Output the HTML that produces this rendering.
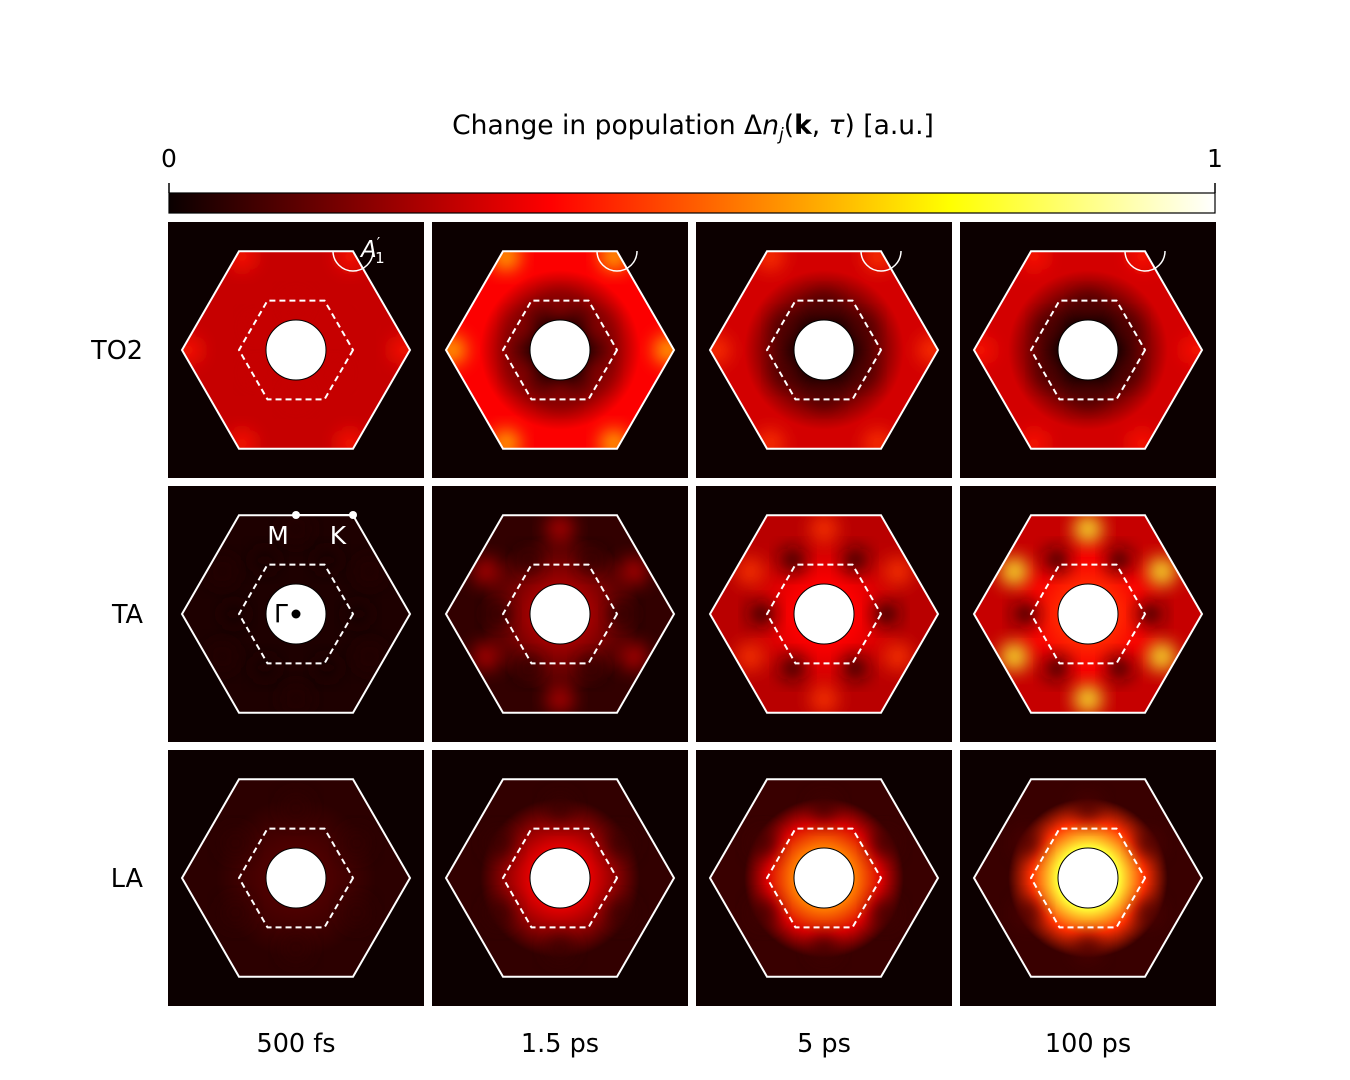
<!DOCTYPE html>
<html><head><meta charset="utf-8"><style>
body{margin:0;background:#fff;}
svg{display:block;font-family:"DejaVu Sans","Liberation Sans",sans-serif;}
</style></head><body>
<svg id="fig" width="1350" height="1080" viewBox="0 0 1350 1080">
<defs>
<linearGradient id="hotcb" x1="0" x2="1" y1="0" y2="0">
<stop offset="0" stop-color="#0a0000"/><stop offset="0.365" stop-color="#ff0000"/>
<stop offset="0.746" stop-color="#ffff00"/><stop offset="1" stop-color="#ffffff"/>
</linearGradient>
<filter id="blur" x="-50%" y="-50%" width="200%" height="200%"><feGaussianBlur stdDeviation="9"/></filter>
</defs>
<text x="693" y="134" font-size="26.5" text-anchor="middle">Change in population Δ<tspan font-style="italic">n</tspan><tspan font-style="italic" font-size="17" dy="6">j</tspan><tspan dy="-6">(</tspan><tspan font-weight="bold">k</tspan>, <tspan font-style="italic">τ</tspan>) [a.u.]</text>
<text x="169" y="167" font-size="25" text-anchor="middle">0</text>
<text x="1215" y="167" font-size="25" text-anchor="middle">1</text>
<line x1="169" y1="183" x2="169" y2="193" stroke="#000" stroke-width="1.5"/>
<line x1="1215" y1="183" x2="1215" y2="193" stroke="#000" stroke-width="1.5"/>
<rect x="169" y="193" width="1046" height="20" fill="url(#hotcb)" stroke="#000" stroke-width="1.2"/>
<g id="panels"></g>
</svg>
<script>
const rowLabels=["TO2","TA","LA"];
const colLabels=["500 fs","1.5 ps","5 ps","100 ps"];
const outerLevel=[[0.28,0.36,0.30,0.30],[0.03,0.06,0.26,0.28],[0.05,0.06,0.07,0.07]];
const innerLevel=[[0.28,0.06,0.04,0.03],[0.03,0.22,0.36,0.42],[0.10,0.32,0.55,0.80]];
const spotLevel=[[0.40,0.65,0.45,0.40],[0.04,0.26,0.45,0.80],[0.06,0.07,0.08,0.1]];
const darkLevel=[[0.28,0.2,0.1,0.1],[0.03,0.04,0.02,0.02],[0.05,0.06,0.07,0.07]];

function hot(x){x=Math.max(0,Math.min(1,x));
 const r=Math.min(1,0.04+0.96*x/0.365),g=Math.max(0,Math.min(1,(x-0.365)/0.381)),b=Math.max(0,Math.min(1,(x-0.746)/0.254));
 return `rgb(${Math.round(r*255)},${Math.round(g*255)},${Math.round(b*255)})`;}
const NS="http://www.w3.org/2000/svg";
const g=document.getElementById('panels');
const defs=document.querySelector('defs');
function mk(tag,attrs,parent){const e=document.createElementNS(NS,tag);for(const k in attrs)e.setAttribute(k,attrs[k]);(parent||g).appendChild(e);return e;}
function hex(cx,cy,r){let p=[];for(let i=0;i<6;i++){const a=Math.PI/3*i;p.push((cx+r*Math.cos(a)).toFixed(1)+","+(cy+r*Math.sin(a)).toFixed(1));}return p.join(" ");}
const colX=[168,432,696,960],rowY=[222,486,750],S=256;
for(let r=0;r<3;r++){for(let c=0;c<4;c++){
 const x0=colX[c],y0=rowY[r],cx=x0+128,cy=y0+128;
 const bg=mk('rect',{x:x0,y:y0,width:S,height:S,fill:'#0c0000'});
 
 
 const cp=mk('clipPath',{id:'clip'+r+c},defs);
 mk('polygon',{points:hex(cx,cy,114)},cp);
 const gid='grad'+r+c;
 const rg=mk('radialGradient',{id:gid,cx:cx,cy:cy,r:114,gradientUnits:'userSpaceOnUse'},defs);
 mk('stop',{offset:'0.27',"stop-color":hot(innerLevel[r][c])},rg);
 mk('stop',{offset:'0.5',"stop-color":hot((innerLevel[r][c]+outerLevel[r][c])/2)},rg);
 mk('stop',{offset:'0.7',"stop-color":hot(outerLevel[r][c])},rg);
 mk('stop',{offset:'1',"stop-color":hot(outerLevel[r][c])},rg);
 const cg=mk('g',{'clip-path':`url(#clip${r}${c})`});
 const hf=mk('polygon',{points:hex(cx,cy,114),fill:`url(#${gid})`},cg);
 
 
 const sp=spotLevel[r][c];
 const rad=r===0?108:(r===1?85:70);
 const off=r===0?0:30;
 for(let k=0;k<6;k++){const a=(off+60*k)*Math.PI/180;
  const s=mk('circle',{cx:cx+rad*Math.cos(a),cy:cy+rad*Math.sin(a),r:14,fill:hot(sp),filter:'url(#blur)',opacity:0.9},cg);
  
  
  if(r===2) continue;
  const a2=(60*k+(r===1?0:30))*Math.PI/180, rad2=r===1?62:45;
  const d=mk('circle',{cx:cx+rad2*Math.cos(a2),cy:cy+rad2*Math.sin(a2),r:12,fill:hot(darkLevel[r][c]),filter:'url(#blur)',opacity:0.9},cg);
  
  }
 const ho=mk('polygon',{points:hex(cx,cy,114),fill:'none',stroke:'#fff','stroke-width':2});
 
 
 const hi=mk('polygon',{points:hex(cx,cy,57),fill:'none',stroke:'#fff','stroke-width':2,'stroke-dasharray':'6,4'});
 
 
 const ci=mk('circle',{cx:cx,cy:cy,r:30,fill:'#fff',stroke:'#000','stroke-width':1});
 
 
 if(r===0){const a=mk('path',{d:`M ${cx+37} ${y0+29} A 20 20 0 0 0 ${cx+77} ${y0+29}`,fill:'none',stroke:'#fff','stroke-width':1.5});
  
  }
}}
let t=mk('text',{x:361,y:257,'font-size':23,fill:'#fff','font-style':'italic'});t.innerHTML='A<tspan font-size="15" dy="-9" font-style="normal">′</tspan><tspan font-size="15" dy="15" dx="-5" font-style="normal">1</tspan>';


let l=mk('line',{x1:296,y1:515,x2:353,y2:515,stroke:'#fff','stroke-width':2});


for(const [px,nm] of [[296,'m-point'],[353,'k-point']]){const d=mk('circle',{cx:px,cy:515,r:4,fill:'#fff'});
 
 }
for(const [tx,ty,s,nm,col] of [[278,544,'M','m-label','#fff'],[338,544,'K','k-label','#fff'],[281,622,'Γ','gamma-label','#000']]){
 const e=mk('text',{x:tx,y:ty,'font-size':25,fill:col,'text-anchor':'middle'});e.textContent=s;
 
 }
let gd=mk('circle',{cx:296,cy:614,r:4.5,fill:'#000'});


rowLabels.forEach((s,r)=>{const e=mk('text',{x:143,y:rowY[r]+137,'font-size':25.5,'text-anchor':'end'});e.textContent=s;
 
 });
colLabels.forEach((s,c)=>{const e=mk('text',{x:colX[c]+128,y:1052,'font-size':25.5,'text-anchor':'middle'});e.textContent=s;
 
 });
</script>
</body></html>
